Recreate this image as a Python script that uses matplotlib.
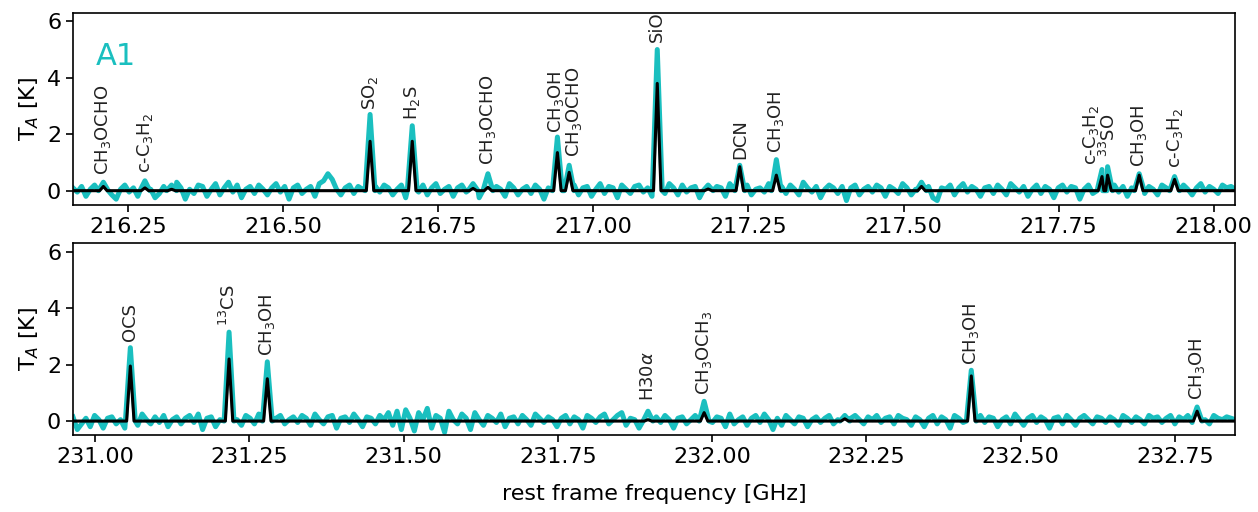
#!/usr/bin/env python3
# Spectrum of A1: observed (cyan) and model (black), two frequency windows
import numpy as np
import matplotlib.pyplot as plt

# ---- upper window (216.16 - 218.04 GHz) ----
top_range = (216.161, 218.035)
top_line_freq = [216.210, 216.277, 216.320, 216.640, 216.708, 216.806, 216.830,
                 216.942, 216.961, 217.103, 217.185, 217.236, 217.295, 217.529,
                 217.820, 217.829, 217.880, 217.937]
top_line_obs = [0.30, 0.35, 0.20, 2.70, 2.30, 0.25, 0.60,
                1.90, 0.90, 5.00, 0.20, 0.90, 1.10, 0.30,
                0.75, 0.85, 0.60, 0.50]
top_line_model = [0.15, 0.10, 0.05, 1.75, 1.75, 0.08, 0.12,
                  1.35, 0.65, 3.80, 0.06, 0.85, 0.55, 0.15,
                  0.50, 0.55, 0.55, 0.40]
top_noise = [
    0.10, -0.05, 0.15, -0.20, 0.05, 0.20, -0.10, 0.10, 0.25, -0.15, -0.30, 0.05, 0.20, -0.05, 0.10,
    -0.20, 0.10, 0.30, 0.05, -0.25, -0.10, 0.15, 0.20, -0.10, 0.30, 0.10, -0.30, 0.05, -0.10, 0.20,
    0.15, -0.20, 0.05, 0.25, -0.15, 0.10, 0.30, -0.05, 0.20, -0.25, 0.05, 0.15, -0.10, 0.20, 0.05,
    -0.15, 0.10, 0.25, -0.05, 0.15, -0.30, 0.10, 0.20, -0.10, 0.05, 0.15, -0.20, 0.25, 0.35, 0.60,
    0.40, 0.05, -0.15, 0.10, 0.20, -0.10, 0.15, 0.05, -0.20, 0.10, 0.15, -0.05, 0.20, 0.10, -0.15,
    0.05, 0.20, -0.25, 0.10, 0.15, -0.05, 0.20, -0.15, 0.10, 0.25, -0.10, 0.05, 0.15, -0.20, 0.10,
    0.20, -0.05, 0.15, 0.05, -0.25, 0.10, 0.20, -0.10, 0.15, 0.05, -0.20, 0.25, 0.10, -0.15, 0.05,
    0.15, -0.10, 0.20, 0.05, -0.30, 0.10, 0.15, -0.05, 0.25, -0.10, 0.05, 0.20, -0.15, 0.10, 0.15,
    -0.20, 0.05, 0.25, -0.10, 0.15, 0.10, -0.25, 0.20, 0.05, -0.10, 0.15, 0.20, -0.05, 0.10, -0.20,
    0.15, 0.05, -0.10, 0.25, 0.10, -0.15, 0.20, -0.05, 0.10, 0.15, -0.25, 0.05, 0.20, -0.10, 0.15,
    0.10, -0.20, 0.25, 0.05, -0.10, 0.15, 0.20, -0.15, 0.05, 0.10, -0.05, 0.25, -0.20, 0.10, 0.15,
    -0.10, 0.20, 0.05, -0.15, 0.30, 0.10, -0.05, 0.15, -0.25, 0.05, 0.20, 0.10, -0.10, 0.15, -0.35,
    0.10, 0.20, -0.15, 0.05, 0.15, -0.05, 0.20, 0.10, -0.20, 0.15, 0.05, -0.10, 0.25, 0.10, -0.15,
    0.05, 0.20, -0.10, 0.15, -0.25, -0.35, 0.10, 0.05, 0.20, -0.15, 0.10, 0.25, -0.05, 0.15, 0.05,
    -0.20, 0.10, 0.15, -0.10, 0.20, 0.05, -0.15, 0.25, 0.10, -0.05, 0.15, -0.20, 0.05, 0.20, -0.10,
    0.15, 0.05, -0.25, 0.10, 0.20, -0.05, 0.15, 0.10, -0.30, 0.05, 0.20, -0.10, 0.25, 0.05, -0.15,
    0.10, 0.20, -0.05, 0.15, -0.20, 0.10, 0.05, 0.25, -0.10, 0.15, 0.05, -0.15, 0.20, 0.10, -0.05,
    0.15, -0.10, 0.20, 0.05, -0.15, 0.10, 0.25, -0.05, 0.15, 0.05, -0.10, 0.20, 0.10, 0.15, 0.05,
]
top_labels = ["CH$_3$OCHO", "c-C$_3$H$_2$", "SO$_2$", "H$_2$S", "CH$_3$OCHO",
              "CH$_3$OH", "CH$_3$OCHO", "SiO", "DCN", "CH$_3$OH",
              "c-C$_3$H$_2$", "$^{33}$SO", "CH$_3$OH", "c-C$_3$H$_2$"]
top_label_x = [216.210, 216.277, 216.640, 216.708, 216.830,
               216.940, 216.969, 217.103, 217.236, 217.295,
               217.802, 217.832, 217.880, 217.937]
top_label_y = [0.56, 0.63, 2.85, 2.50, 0.92,
               2.04, 1.20, 5.25, 1.13, 1.34,
               0.92, 1.20, 0.85, 0.80]

# ---- lower window (230.96 - 232.85 GHz) ----
bot_range = (230.964, 232.848)
bot_line_freq = [231.057, 231.217, 231.279, 231.896, 231.987, 232.215, 232.420, 232.786]
bot_line_obs = [2.60, 3.15, 2.10, 0.35, 0.70, 0.20, 1.80, 0.50]
bot_line_model = [1.95, 2.20, 1.50, 0.05, 0.30, 0.08, 1.60, 0.35]
bot_noise = [
    0.15, -0.30, -0.10, 0.10, -0.20, 0.20, 0.05, -0.25, 0.10, 0.15, -0.10, 0.05, -0.25, 0.20, 0.10,
    -0.15, 0.25, 0.05, -0.10, 0.15, -0.05, 0.20, -0.20, 0.05, 0.15, -0.10, 0.10, 0.20, -0.05, 0.25,
    -0.30, 0.10, 0.15, -0.20, 0.05, 0.25, -0.10, 0.15, 0.05, -0.15, 0.20, 0.10, -0.10, 0.25, -0.05,
    0.15, -0.20, 0.10, 0.20, -0.10, 0.05, 0.15, -0.05, 0.20, 0.10, -0.15, 0.25, 0.05, -0.10, 0.15,
    0.20, -0.25, 0.10, 0.15, -0.05, 0.25, 0.05, -0.20, 0.15, 0.10, -0.10, 0.20, 0.05, 0.30, -0.15,
    0.35, -0.30, 0.40, 0.10, -0.35, 0.30, 0.05, 0.45, -0.25, 0.20, 0.10, -0.40, 0.35, 0.05, -0.10,
    0.25, 0.10, -0.30, 0.30, 0.05, -0.15, 0.20, 0.10, -0.05, 0.25, -0.20, 0.10, 0.15, -0.10, 0.20,
    0.05, -0.15, 0.25, 0.10, -0.05, 0.15, 0.05, -0.20, 0.10, 0.20, -0.10, 0.15, 0.05, -0.25, 0.20,
    0.10, -0.05, 0.15, 0.25, -0.10, 0.05, 0.20, 0.30, -0.15, 0.10, 0.05, -0.25, 0.15, 0.10, -0.20,
    0.15, -0.05, 0.20, 0.05, -0.25, 0.10, 0.15, -0.10, 0.05, 0.20, -0.15, 0.10, 0.05, -0.05, 0.15,
    0.10, -0.20, 0.25, -0.10, 0.05, 0.15, -0.15, 0.10, 0.20, -0.05, 0.25, 0.05, -0.30, 0.10, -0.15,
    0.20, 0.05, -0.10, 0.15, 0.10, -0.20, 0.05, 0.15, -0.05, 0.10, 0.20, -0.10, 0.05, 0.15, -0.15,
    0.10, 0.20, 0.05, -0.10, 0.15, 0.05, 0.20, -0.05, 0.10, 0.15, -0.10, 0.20, 0.10, 0.05, -0.15,
    0.15, 0.05, -0.20, 0.10, 0.20, -0.10, 0.15, 0.05, -0.25, 0.20, 0.10, -0.05, 0.15, -0.15, 0.10,
    0.20, -0.05, 0.15, 0.10, -0.20, 0.05, 0.15, -0.10, 0.25, 0.05, -0.15, 0.10, 0.20, -0.05, 0.15,
    0.05, -0.25, 0.10, 0.15, -0.10, 0.20, 0.05, -0.15, 0.10, 0.20, 0.05, -0.10, 0.15, 0.10, -0.05,
    0.15, 0.05, -0.15, 0.20, 0.10, -0.05, 0.15, 0.05, -0.10, 0.20, 0.10, 0.15, -0.05, 0.10, 0.20,
    -0.10, 0.15, 0.05, 0.20, -0.05, 0.10, 0.15, 0.05, -0.10, 0.20, 0.10, 0.05, 0.15, 0.10, 0.05,
]
bot_labels = ["OCS", "$^{13}$CS", "CH$_3$OH", "H30$\\alpha$", "CH$_3$OCH$_3$",
              "CH$_3$OH", "CH$_3$OH"]
bot_label_x = [231.057, 231.217, 231.279, 231.896, 231.987, 232.420, 232.786]
bot_label_y = [2.82, 3.35, 2.31, 0.70, 0.94, 2.00, 0.76]

obs_color = (0.1, 0.75, 0.75)


def spectrum(grid, base, centers, peaks, hw):
    # baseline samples plus one spike per line
    x = np.asarray(grid, float)
    y = np.asarray(base, float)
    keep = np.ones(len(x), bool)
    for c in centers:
        keep &= np.abs(x - c) > hw
    xs, ys = [x[keep]], [y[keep]]
    for c, p in zip(centers, peaks):
        xs.append([c - hw, c, c + hw])
        ys.append([0.0, p, 0.0])
    x = np.concatenate(xs)
    y = np.concatenate(ys)
    o = np.argsort(x, kind="stable")
    return x[o], y[o]


def draw(ax, rng, noise, freqs, obs, model, labels, lx, ly):
    grid = np.linspace(rng[0], rng[1], len(noise))
    xo, yo = spectrum(grid, noise, freqs, obs, 0.008)
    xm, ym = spectrum(list(rng), [0, 0], freqs, model, 0.006)
    ax.plot(xo, yo, color=obs_color, lw=3.6)
    ax.plot(xm, ym, color="black", lw=2.2)
    for t, x, y in zip(labels, lx, ly):
        ax.text(x, y, t, rotation=90, ha="center", va="bottom", fontsize=13,
                color="#222222")
    ax.set_xlim(*rng)
    ax.set_ylim(-0.5, 6.3)
    ax.set_yticks([0, 2, 4, 6])
    ax.set_ylabel("T$_A$ [K]", fontsize=16)
    ax.tick_params(labelsize=16, length=5, width=1.2)
    ax.xaxis.set_major_formatter(plt.FormatStrFormatter("%.2f"))
    for s in ax.spines.values():
        s.set_linewidth(1.2)


fig = plt.figure(figsize=(12.58, 5.12), dpi=100)
ax1 = fig.add_axes([0.058, 0.600, 0.924, 0.375])
ax2 = fig.add_axes([0.058, 0.150, 0.924, 0.375])

draw(ax1, top_range, top_noise, top_line_freq, top_line_obs, top_line_model,
     top_labels, top_label_x, top_label_y)
draw(ax2, bot_range, bot_noise, bot_line_freq, bot_line_obs, bot_line_model,
     bot_labels, bot_label_x, bot_label_y)
ax1.set_xticks([216.25, 216.5, 216.75, 217.0, 217.25, 217.5, 217.75, 218.0])
ax2.set_xticks([231.0, 231.25, 231.5, 231.75, 232.0, 232.25, 232.5, 232.75])

ax1.text(0.02, 0.73, "A1", transform=ax1.transAxes, fontsize=22, color=obs_color)
ax2.set_xlabel("rest frame frequency [GHz]", fontsize=16, labelpad=12)

fig.savefig("out.png", dpi=100)
